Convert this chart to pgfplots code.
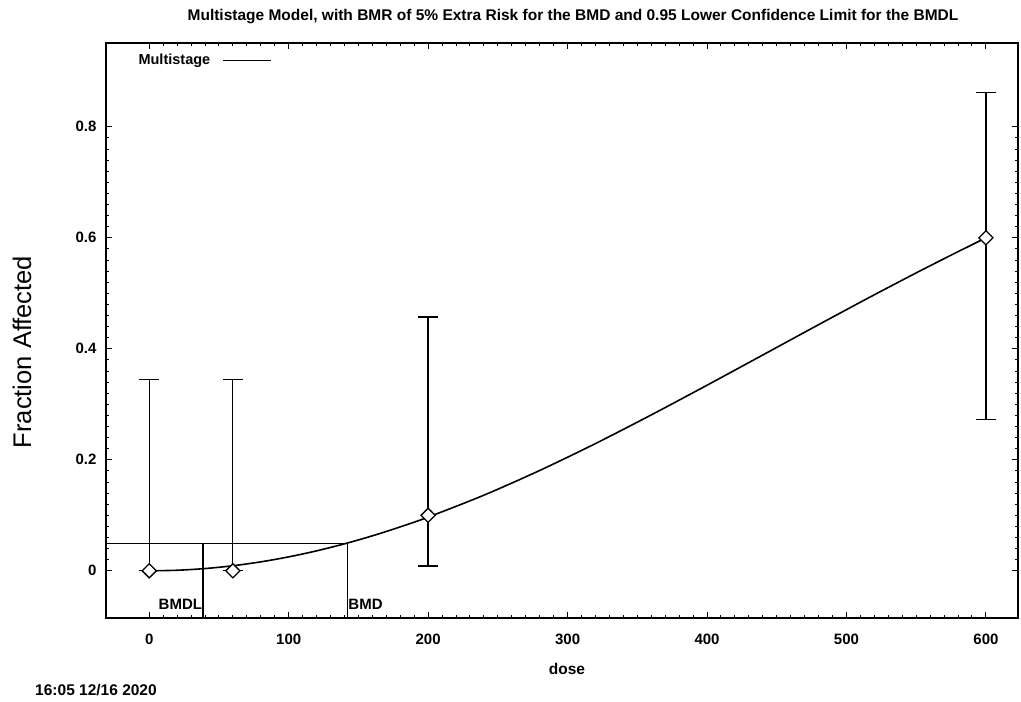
\documentclass[border=0pt]{standalone}
\usepackage{fontspec}
\setmainfont{Liberation Sans}
\usepackage{pgfplots}
\pgfplotsset{compat=1.18}
\begin{document}
\begin{tikzpicture}[x=1pt,y=1pt]
\useasboundingbox (0,0) rectangle (1021,702);
\begin{axis}[
  at={(106pt,84pt)}, anchor=south west, scale only axis,
  width=912pt, height=575pt,
  xmin=-31, xmax=623, ymin=-0.085, ymax=0.951,
  xtick={0,100,200,300,400,500,600},
  ytick={0,0.2,0.4,0.6,0.8},
  minor x tick num=9, minor y tick num=9,
  tick align=inside, major tick length=6pt, minor tick length=3pt,
  axis line style={line width=1.6pt},
  every tick/.style={line width=1pt, black},
  /pgf/number format/assume math mode=true,
  /pgf/number format/fixed,
  ticklabel style={font=\fontsize{15}{17}\selectfont\bfseries},
  xticklabel style={anchor=base, yshift=-27pt},
  yticklabel style={anchor=east, xshift=-6pt},
  legend style={draw=none, fill=none, at={(0.03,0.97)}, anchor=west,
    font=\fontsize{14.5}{17}\selectfont\bfseries},
  legend plot pos=right,
  legend cell align=right,
  legend image code/.code={\path (0pt,0pt); \draw[line width=0.8pt] (10pt,0pt) -- (58pt,0pt);},
  clip=false,
]
% fitted multistage curve
\addplot[black, line width=1.6pt, smooth] coordinates {
(0,0) (20,0.00102) (40,0.00406) (60,0.00912) (80,0.01615) (100,0.02512)
(120,0.03597) (140,0.04864) (160,0.06305) (180,0.07912) (200,0.09675)
(240,0.1363) (280,0.1808) (320,0.2293) (360,0.2809) (400,0.3344)
(440,0.3889) (480,0.4435) (520,0.4974) (560,0.5497) (600,0.6000)};
\addlegendentry{Multistage}
% error bars
\addplot[black, only marks, mark=none, forget plot,
  error bars/.cd, y dir=both, y explicit, error mark=-,
  error mark options={rotate=90, mark size=10pt, line width=1pt},
  error bar style={line width=1pt}]
  coordinates {(0,0) += (0,0.345) -= (0,0) (60,0) += (0,0.345) -= (0,0)};
\addplot[black, only marks, mark=none, forget plot,
  error bars/.cd, y dir=both, y explicit, error mark=-,
  error mark options={rotate=90, mark size=10pt, line width=2.2pt},
  error bar style={line width=2.2pt}]
  coordinates {(200,0.1) += (0,0.358) -= (0,0.092)};
\addplot[black, only marks, mark=none, forget plot,
  error bars/.cd, y dir=both, y explicit, error mark=-,
  error mark options={rotate=90, mark size=10pt, line width=1.3pt},
  error bar style={line width=1.3pt}]
  coordinates {(600,0.6) += (0,0.262) -= (0,0.327)};
% data points
\addplot[only marks, mark=square*, mark size=5pt, mark options={rotate=45, fill=white, draw=black, line width=1.3pt}, forget plot]
  coordinates {(0,0) (60,0) (200,0.1) (600,0.6)};
% BMR lines
\addplot[black, line width=0.7pt, forget plot] coordinates {(-31,0.05) (142,0.05) (142,-0.085)};
\addplot[black, line width=2pt, forget plot] coordinates {(38.7,0.05) (38.7,-0.085)};
\node[anchor=east, inner sep=1pt, font=\fontsize{15}{17}\selectfont\bfseries] at (axis cs:38.7,-0.06) {BMDL};
\node[anchor=west, inner sep=1pt, font=\fontsize{15}{17}\selectfont\bfseries] at (axis cs:142,-0.06) {BMD};
\end{axis}
\node[font=\fontsize{15.5}{18}\selectfont\bfseries] at (573,685) {Multistage Model, with BMR of 5\% Extra Risk for the BMD and 0.95 Lower Confidence Limit for the BMDL};
\node[rotate=90, font=\fontsize{25.5}{28}\selectfont] at (22,350) {Fraction Affected};
\node[font=\fontsize{15.5}{18}\selectfont\bfseries] at (567,33) {dose};
\node[font=\fontsize{15.5}{18}\selectfont\bfseries] at (96,12) {16:05 12/16 2020};
\end{tikzpicture}
\end{document}
